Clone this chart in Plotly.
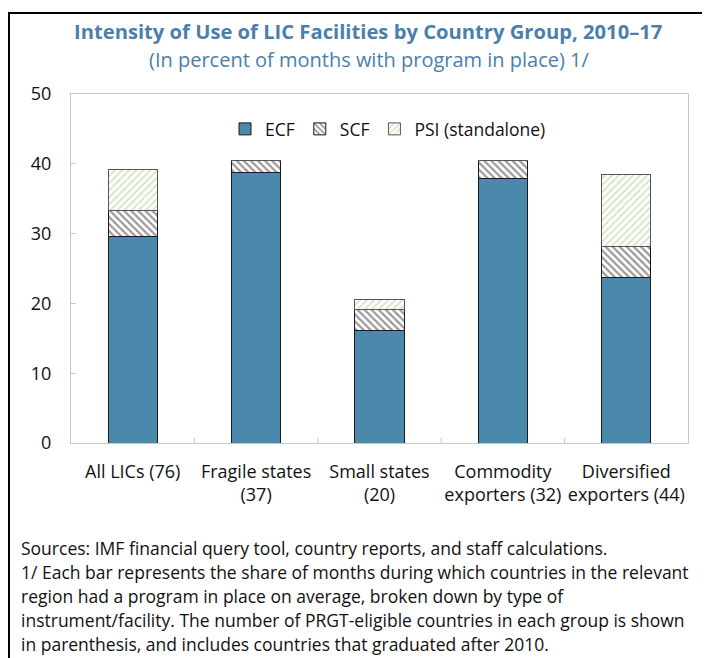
import plotly.graph_objects as go

categories = ["All LICs (76)", "Fragile states<br>(37)", "Small states<br>(20)",
              "Commodity<br>exporters (32)", "Diversified<br>exporters (44)"]
ecf = [29.6, 38.7, 16.1, 37.9, 23.7]
scf = [3.7, 1.8, 3.05, 2.6, 4.4]
psi = [5.95, 0.0, 1.35, 0.0, 10.3]
y_ticks = [0, 10, 20, 30, 40, 50]

title_text = "Intensity of Use of LIC Facilities by Country Group, 2010\u201317"
subtitle_text = "(In percent of months with program in place) 1/"
footnote_lines = [
    "Sources: IMF financial query tool, country reports, and staff calculations.",
    "1/ Each bar represents the share of months during which countries in the relevant",
    "region had a program in place on average, broken down by type of",
    "instrument/facility. The number of PRGT-eligible countries in each group is shown",
    "in parenthesis, and includes countries that graduated after 2010.",
]

FONT = "Open Sans"
OFF = 8  # page body margin
W, H = 710 - OFF, 658 - OFF
L, R, T, B = 71 - OFF, 22, 94 - OFF, 215
PW, PH = W - L - R, H - T - B

def px_x(x):
    # x in screenshot pixels
    return (x - OFF - L) / PW

def px_y(y):
    return (H - B - (y - OFF)) / PH

fig = go.Figure()
fig.add_trace(go.Bar(
    x=categories, y=ecf, name="ECF",
    marker=dict(color="#4a88ac", line=dict(color="#1a1a1a", width=1)),
))
fig.add_trace(go.Bar(
    x=categories, y=scf, name="SCF",
    marker=dict(color="white", line=dict(color="#1a1a1a", width=1),
                pattern=dict(shape="\\", fgcolor="#333333", bgcolor="white",
                             size=5, solidity=0.45)),
))
fig.add_trace(go.Bar(
    x=categories, y=psi, name="PSI (standalone)",
    marker=dict(color="white", line=dict(color="#555555", width=1),
                pattern=dict(shape="/", fgcolor="#a9d08e", bgcolor="white",
                             size=5, solidity=0.4)),
))

annotations = [
    dict(text="<b>" + title_text + "</b>", x=px_x(368), y=px_y(31),
         xref="paper", yref="paper", showarrow=False, xanchor="center", yanchor="middle",
         font=dict(family=FONT, size=20.2, color="#4a7fab")),
    dict(text=subtitle_text, x=px_x(369), y=px_y(60),
         xref="paper", yref="paper", showarrow=False, xanchor="center", yanchor="middle",
         font=dict(family=FONT, size=20, color="#4a7fab")),
]
for i, line in enumerate(footnote_lines):
    annotations.append(dict(
        text=line, x=px_x(19), y=px_y(548 + 24 * i), xref="paper", yref="paper",
        showarrow=False, xanchor="left", yanchor="middle",
        font=dict(family=FONT, size=17.5, color="#111111")))

shapes = [
    dict(type="rect", xref="paper", yref="paper",
         x0=px_x(9), x1=px_x(780), y0=px_y(13), y1=px_y(760),
         line=dict(color="black", width=2), fillcolor="rgba(0,0,0,0)", layer="above"),
]

fig.update_layout(
    width=W, height=H,
    margin=dict(l=L, r=R, t=T, b=B, pad=0),
    paper_bgcolor="white", plot_bgcolor="white",
    barmode="stack", bargap=0.6,
    font=dict(family=FONT, size=18, color="#111111"),
    showlegend=True,
    legend=dict(orientation="h", x=px_x(388), xanchor="center", y=px_y(129), yanchor="middle",
                font=dict(family=FONT, size=17.5, color="#111111"),
                bgcolor="rgba(0,0,0,0)", itemwidth=30, tracegroupgap=0, traceorder="normal"),
    annotations=annotations,
    shapes=shapes,
    xaxis=dict(showline=True, linecolor="#c8c8c8", linewidth=1, mirror=True,
               ticks="inside", ticklen=0, showgrid=False, tickfont=dict(size=18),
               ticklabelstandoff=12),
    yaxis=dict(range=[0, 50], tickvals=y_ticks, showline=True, linecolor="#c8c8c8",
               linewidth=1, mirror=True, ticks="inside", ticklen=5, tickcolor="#c8c8c8",
               showgrid=False, zeroline=False, tickfont=dict(size=18),
               ticklabelstandoff=15),
)

# category boundary ticks on the x axis
for k in range(1, len(categories)):
    fig.add_shape(type="line", xref="x", yref="paper", x0=k - 0.5, x1=k - 0.5,
                  y0=0, y1=5 / PH, line=dict(color="#c8c8c8", width=1))

fig.write_html("out.html")
